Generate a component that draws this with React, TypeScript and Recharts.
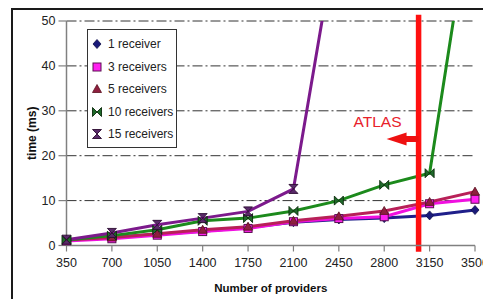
import React from "react";
import {
  LineChart,
  Line,
  XAxis,
  YAxis,
  CartesianGrid,
  ReferenceLine,
  Legend,
  Label,
} from "recharts";

const providers = [350, 700, 1050, 1400, 1750, 2100, 2450, 2800, 3150, 3500];
const r1 = [1.2, 1.8, 2.5, 3.2, 4.0, 5.2, 5.8, 6.1, 6.7, 7.9];
const r3 = [1.0, 1.5, 2.3, 3.1, 3.8, 5.3, 6.0, 6.4, 9.3, 10.3];
const r5 = [1.2, 1.8, 2.6, 3.5, 4.2, 5.5, 6.5, 7.7, 9.7, 12.0];
const r10 = [1.2, 2.2, 3.5, 5.5, 6.1, 7.7, 10.0, 13.5, 16.1, 81];
const r15 = [1.3, 2.8, 4.6, 6.1, 7.6, 12.6, 72, null, null, null];
const yTicks = [0, 10, 20, 30, 40, 50];
const atlasX = 3065;
const atlasArrowFrom = 2818;
const atlasArrowY = 23.7;
const atlasLabel = "ATLAS";

const seriesNames = ["1 receiver", "3 receivers", "5 receivers", "10 receivers", "15 receivers"];

type Kind = "diamond" | "square" | "triangle" | "bowtie" | "hourglass";

const series: { key: string; name: string; color: string; kind: Kind; mfill: string; mstroke: string }[] = [
  { key: "r1", name: seriesNames[0], color: "#1f1f8a", kind: "diamond", mfill: "#1a1a7a", mstroke: "#10104a" },
  { key: "r3", name: seriesNames[1], color: "#f010e0", kind: "square", mfill: "#ff20f0", mstroke: "#5a1050" },
  { key: "r5", name: seriesNames[2], color: "#b82058", kind: "triangle", mfill: "#8e1f3e", mstroke: "#5a1020" },
  { key: "r10", name: seriesNames[3], color: "#1c8a1c", kind: "bowtie", mfill: "#1f6a2a", mstroke: "#0a2a0a" },
  { key: "r15", name: seriesNames[4], color: "#7c1a8c", kind: "hourglass", mfill: "#5a2a6a", mstroke: "#2a0a30" },
];

const data = providers.map((p, i) => ({
  providers: p,
  r1: r1[i],
  r3: r3[i],
  r5: r5[i],
  r10: r10[i],
  r15: r15[i],
}));

function marker(kind: Kind, cx: number, cy: number, fill: string, stroke: string, key?: string) {
  const s = 4.5;
  switch (kind) {
    case "diamond":
      return (
        <polygon key={key} points={`${cx},${cy - s} ${cx + s - 0.5},${cy} ${cx},${cy + s} ${cx - s + 0.5},${cy}`} fill={fill} stroke={stroke} strokeWidth={0.8} />
      );
    case "square":
      return <rect key={key} x={cx - 4} y={cy - 4} width={8} height={8} fill={fill} stroke={stroke} strokeWidth={1} />;
    case "triangle":
      return (
        <polygon key={key} points={`${cx},${cy - s} ${cx + s},${cy + 3.5} ${cx - s},${cy + 3.5}`} fill={fill} stroke={stroke} strokeWidth={0.8} />
      );
    case "bowtie":
      return (
        <g key={key}>
          <polygon points={`${cx - s},${cy - s} ${cx},${cy} ${cx - s},${cy + s}`} fill={fill} stroke={stroke} strokeWidth={0.9} />
          <polygon points={`${cx + s},${cy - s} ${cx},${cy} ${cx + s},${cy + s}`} fill={fill} stroke={stroke} strokeWidth={0.9} />
        </g>
      );
    case "hourglass":
      return (
        <g key={key}>
          <polygon points={`${cx - s},${cy - s} ${cx + s},${cy - s} ${cx},${cy}`} fill={fill} stroke={stroke} strokeWidth={0.9} />
          <polygon points={`${cx - s},${cy + s} ${cx + s},${cy + s} ${cx},${cy}`} fill={fill} stroke={stroke} strokeWidth={0.9} />
        </g>
      );
  }
}

const makeDot = (kind: Kind, fill: string, stroke: string) => (props: any) => {
  const { cx, cy, index } = props;
  if (cx == null || cy == null || Number.isNaN(cx) || Number.isNaN(cy)) return <g key={`e${index}`} />;
  return marker(kind, cx, cy, fill, stroke, `d${index}`) as any;
};

const LegendBox = () => (
  <div
    style={{
      border: "1px solid #333",
      background: "#fff",
      width: 90,
      height: 119,
      boxSizing: "border-box",
      paddingTop: 3,
      fontFamily: "'Liberation Sans', Arial, sans-serif",
      fontSize: 12,
      color: "#222",
    }}
  >
    {series.map((s) => (
      <div key={s.key} style={{ display: "flex", alignItems: "center", height: 22.5 }}>
        <svg width={20} height={14} style={{ marginLeft: 0 }}>
          {marker(s.kind, 9, 7, s.mfill, s.mstroke)}
        </svg>
        <span style={{ marginLeft: 0 }}>{s.name}</span>
      </div>
    ))}
  </div>
);

const ArrowShape = (props: any) => {
  const { x1, y1, x2 } = props;
  const tip = Math.min(x1, x2);
  const end = Math.max(x1, x2);
  const y = y1;
  const headLen = 20;
  const hh = 6.5;
  const sh = 3;
  return (
    <g>
      <polygon
        points={`${tip},${y} ${tip + headLen},${y - hh} ${tip + headLen},${y - sh} ${end},${y - sh} ${end},${y + sh} ${tip + headLen},${y + sh} ${tip + headLen},${y + hh}`}
        fill="#ee1111"
      />
      <text
        x={tip - 33}
        y={y - 12}
        fill="#e8202a"
        fontSize={15.5}
        fontFamily="'Liberation Sans', Arial, sans-serif"
      >
        {atlasLabel}
      </text>
    </g>
  );
};

export default function App() {
  const tickStyle = { fontFamily: "'Liberation Sans', Arial, sans-serif", fontSize: 12.5, fill: "#222" };
  return (
    <div style={{ position: "absolute", left: 0, top: 0, width: 483, height: 299, overflow: "hidden", background: "#fff" }}>
      <div
        style={{
          position: "absolute",
          left: 11,
          top: 8,
          width: 600,
          height: 400,
          borderTop: "2px solid #1a1a1a",
          borderLeft: "2px solid #1a1a1a",
        }}
      />
      <div style={{ position: "absolute", left: 0, top: 0 }}>
        <LineChart width={520} height={299} data={data} margin={{ top: 21, right: 45, left: 0, bottom: 0 }}>
          <CartesianGrid vertical={false} stroke="#333" strokeDasharray="10 3 2 3" />
          <XAxis
            dataKey="providers"
            type="number"
            domain={[350, 3500]}
            ticks={providers}
            height={53.5}
            tick={tickStyle}
            tickSize={6}
            tickMargin={7}
            axisLine={{ stroke: "#808080", strokeWidth: 1.5 }}
            tickLine={{ stroke: "#808080", strokeWidth: 1.2 }}
          >
            <Label
              value="Number of providers"
              position="insideBottom"
              offset={7}
              style={{ fontFamily: "'Liberation Sans', Arial, sans-serif", fontSize: 11.5, fontWeight: "bold", fill: "#111" }}
            />
          </XAxis>
          <YAxis
            type="number"
            domain={[0, 50]}
            ticks={yTicks}
            allowDataOverflow
            width={66.5}
            tick={tickStyle}
            tickSize={8}
            tickMargin={3}
            axisLine={{ stroke: "#808080", strokeWidth: 1.5 }}
            tickLine={{ stroke: "#808080", strokeWidth: 1.2 }}
          >
            <Label
              value="time (ms)"
              angle={-90}
              position="center"
              dx={-2}
              style={{ fontFamily: "'Liberation Sans', Arial, sans-serif", fontSize: 12, fontWeight: "bold", fill: "#111", textAnchor: "middle" }}
            />
          </YAxis>
          {series.map((s) => (
            <Line
              key={s.key}
              dataKey={s.key}
              name={s.name}
              stroke={s.color}
              strokeWidth={3}
              dot={makeDot(s.kind, s.mfill, s.mstroke)}
              activeDot={false}
              isAnimationActive={false}
              connectNulls={false}
            />
          ))}
          <ReferenceLine
            segment={[
              { x: atlasX, y: 51.4 },
              { x: atlasX, y: -1.4 },
            ]}
            ifOverflow="visible"
            stroke="#ff1010"
            strokeWidth={5.5}
          />
          <ReferenceLine
            segment={[
              { x: atlasArrowFrom, y: atlasArrowY },
              { x: atlasX, y: atlasArrowY },
            ]}
            ifOverflow="visible"
            shape={ArrowShape}
          />
          <Legend
            layout="vertical"
            align="center"
            verticalAlign="middle"
            content={() => <LegendBox />}
            wrapperStyle={{ position: "absolute", left: 87, top: 29, width: 90, height: 119 }}
          />
        </LineChart>
      </div>
    </div>
  );
}
